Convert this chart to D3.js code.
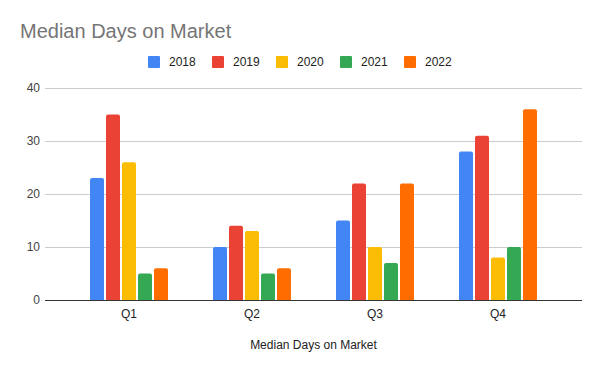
<!DOCTYPE html>
<html>
<head>
<meta charset="utf-8">
<script src="https://cdn.jsdelivr.net/npm/d3@7"></script>
<style>
  body { margin: 0; background: #fff; }
  text { font-family: Arial, "Liberation Sans", sans-serif; }
</style>
</head>
<body>
<div id="canvas"></div>
<script>
const quarters = ["Q1", "Q2", "Q3", "Q4"];
const years = ["2018", "2019", "2020", "2021", "2022"];
const colors = ["#4285f4", "#ea4335", "#fbbc04", "#34a853", "#ff6d01"];
// values per year, one entry per quarter
const v2018 = [23, 10, 15, 28];
const v2019 = [35, 14, 22, 31];
const v2020 = [26, 13, 10, 8];
const v2021 = [5, 5, 7, 10];
const v2022 = [6, 6, 22, 36];
const yTicks = [0, 10, 20, 30, 40];

const series = [v2018, v2019, v2020, v2021, v2022];
const data = [];
quarters.forEach((q, i) => {
  years.forEach((yr, j) => {
    data.push({ quarter: q, year: yr, value: series[j][i] });
  });
});

const width = 600;
const height = 371;
const margin = { top: 88, left: 45, bottom: 71, right: 18 };

const svg = d3.select("#canvas").append("svg")
  .attr("width", width)
  .attr("height", height);

const x = d3.scaleBand()
  .domain(quarters)
  .range([margin.left, width - margin.right])
  .paddingInner(0.366)
  .paddingOuter(0.366);

const xInner = d3.scaleBand()
  .domain(years)
  .range([0, x.bandwidth()])
  .paddingInner(0.125);

const y = d3.scaleLinear()
  .domain([0, 40])
  .range([height - margin.bottom, margin.top]);

const color = d3.scaleOrdinal().domain(years).range(colors);

// title
svg.append("text")
  .attr("x", 20)
  .attr("y", 38)
  .style("font-size", "20px")
  .style("fill", "#757575")
  .text("Median Days on Market");

// gridlines
svg.append("g")
  .selectAll("line")
  .data(yTicks.filter((d) => d > 0))
  .enter()
  .append("line")
  .attr("x1", margin.left)
  .attr("x2", width - margin.right)
  .attr("y1", (d) => Math.round(y(d)) + 0.5)
  .attr("y2", (d) => Math.round(y(d)) + 0.5)
  .style("stroke", "#cccccc")
  .style("stroke-width", 1);

// y tick labels
svg.append("g")
  .selectAll("text")
  .data(yTicks)
  .enter()
  .append("text")
  .attr("x", 40)
  .attr("y", (d) => y(d) + 4)
  .attr("text-anchor", "end")
  .style("font-size", "12px")
  .style("fill", "#444")
  .text((d) => d);

// bars with rounded top corners
function barPath(x0, y0, w, h) {
  const r = Math.min(2, h / 2);
  return `M${x0},${y0 + h}V${y0 + r}Q${x0},${y0} ${x0 + r},${y0}` +
    `H${x0 + w - r}Q${x0 + w},${y0} ${x0 + w},${y0 + r}V${y0 + h}Z`;
}

svg.append("g")
  .selectAll("path")
  .data(data)
  .enter()
  .append("path")
  .attr("d", (d) => {
    const bx = x(d.quarter) + xInner(d.year);
    const by = y(d.value);
    return barPath(bx, by, xInner.bandwidth(), y(0) - by);
  })
  .style("fill", (d) => color(d.year));

// baseline
svg.append("line")
  .attr("x1", margin.left)
  .attr("x2", width - margin.right)
  .attr("y1", y(0) + 0.5)
  .attr("y2", y(0) + 0.5)
  .style("stroke", "#333")
  .style("stroke-width", 1);

// x labels
svg.append("g")
  .selectAll("text")
  .data(quarters)
  .enter()
  .append("text")
  .attr("x", (d) => x(d) + x.bandwidth() / 2)
  .attr("y", 318)
  .attr("text-anchor", "middle")
  .style("font-size", "12px")
  .style("fill", "#222")
  .text((d) => d);

// x axis title
svg.append("text")
  .attr("x", (margin.left + width - margin.right) / 2)
  .attr("y", 349)
  .attr("text-anchor", "middle")
  .style("font-size", "12px")
  .style("fill", "#222")
  .text("Median Days on Market");

// legend
const legend = svg.append("g")
  .selectAll("g")
  .data(years)
  .enter()
  .append("g")
  .attr("transform", (d, i) => `translate(${148 + i * 64},56)`);

legend.append("rect")
  .attr("width", 12)
  .attr("height", 12)
  .attr("rx", 1)
  .style("fill", (d) => color(d));

legend.append("text")
  .attr("x", 21)
  .attr("y", 10)
  .style("font-size", "12px")
  .style("fill", "#222")
  .text((d) => d);
</script>
</body>
</html>
